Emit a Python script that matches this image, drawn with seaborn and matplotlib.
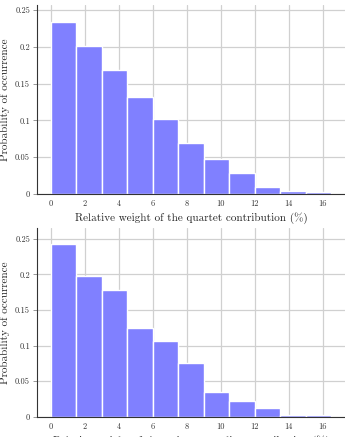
import numpy as np
import pandas as pd
import matplotlib
matplotlib.use("Agg")
import matplotlib.pyplot as plt
import seaborn as sns

# bin edges (percent) and probabilities
BIN_EDGES = [0, 1.5, 3, 4.5, 6, 7.5, 9, 10.5, 12, 13.5, 15, 16.5]
QUARTET_PROB = [0.234, 0.201, 0.169, 0.132, 0.102, 0.069, 0.048, 0.028, 0.010, 0.004, 0.003]
QUINTET_PROB = [0.242, 0.198, 0.178, 0.125, 0.107, 0.076, 0.035, 0.022, 0.012, 0.003, 0.002]

X_TICKS = [0, 2, 4, 6, 8, 10, 12, 14, 16]
Y_TICKS = [0, 0.05, 0.1, 0.15, 0.2, 0.25]
Y_TICK_LABELS = ["0", "0.05", "0.1", "0.15", "0.2", "0.25"]

LABELS = [
    "Relative weight of the quartet contribution (%)",
    "Relative weight of the quintet coupling contribution (%)",
]

BAR_COLOR = "#8080ff"

sns.set_style("whitegrid", {
    "grid.color": "#d0d0d0",
    "axes.edgecolor": "#333333",
    "axes.linewidth": 0.9,
})
plt.rcParams["font.family"] = ["serif"]
plt.rcParams["font.serif"] = ["cmr10", "DejaVu Serif"]
plt.rcParams["axes.formatter.use_mathtext"] = True


def draw_hist(ax, probs, xlabel, ytop):
    centers = [(a + b) / 2 for a, b in zip(BIN_EDGES[:-1], BIN_EDGES[1:])]
    df = pd.DataFrame({"weight": centers, "prob": probs})
    sns.histplot(data=df, x="weight", weights="prob", bins=BIN_EDGES, stat="count",
                 color=BAR_COLOR, alpha=1.0, edgecolor="white", linewidth=1.0,
                 ax=ax)
    ax.set_xticks(X_TICKS)
    ax.set_xticklabels([str(t) for t in X_TICKS], fontsize=6)
    ax.set_yticks(Y_TICKS)
    ax.set_yticklabels(Y_TICK_LABELS, fontsize=6)
    ax.set_ylim(0, ytop)
    ax.set_xlim(-0.825, 17.325)
    ax.grid(True, color="#d0d0d0", linewidth=0.9)
    ax.set_axisbelow(True)
    for s in ["top", "right"]:
        ax.spines[s].set_visible(False)
    ax.tick_params(axis="y", length=3, width=0.6, color="#888888", pad=2,
                   labelcolor="#333333", left=True)
    ax.tick_params(axis="x", length=0, pad=4, labelcolor="#333333")
    ax.set_xlabel(xlabel, fontsize=8, labelpad=3)
    ax.set_ylabel("Probability of occurrence", fontsize=8, labelpad=4)


fig = plt.figure(figsize=(3.45, 4.37), dpi=100)
ax1 = fig.add_axes([0.107, 0.556, 0.893, 0.433])
ax2 = fig.add_axes([0.107, 0.046, 0.893, 0.432])

draw_hist(ax1, QUARTET_PROB, LABELS[0], 0.257)
draw_hist(ax2, QUINTET_PROB, LABELS[1], 0.265)

fig.savefig("out.png", dpi=100)
